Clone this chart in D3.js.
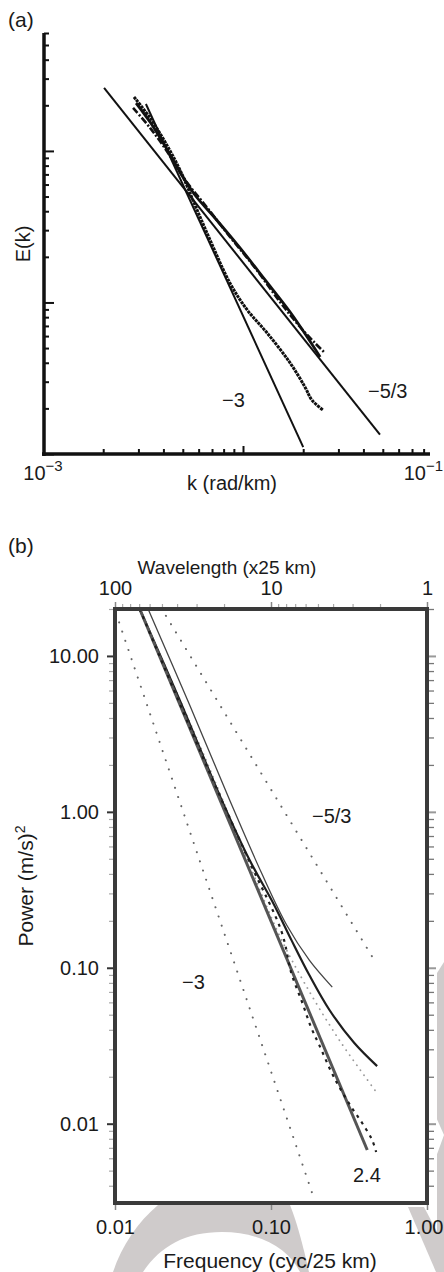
<!DOCTYPE html>
<html>
<head>
<meta charset="utf-8">
<script src="https://cdn.jsdelivr.net/npm/d3@7"></script>
<style>
  body { margin: 0; background: #fff; }
  text { font-family: "Liberation Sans", Arial, Helvetica, sans-serif; fill: #1a1a1a; }
</style>
</head>
<body>
<div class="chart"></div>
<script>
// ---------- panel (a): E(k) vs k (rad/km), log-log, E in arbitrary units
const kLabelsA = [{ k: 1e-3, exp: '−3', anchor: 'middle' }, { k: 1e-1, exp: '−1', anchor: 'end' }];
const majorEA = [1, 10, 100];
const slope53A = [[0.00202, 261], [0.0484, 1.34]];
const slope3A = [[0.00327, 204], [0.0200, 1.11]];
// upper branch, dash-dot
const dashDotA = [[0.00282, 192], [0.00343, 142], [0.00422, 97.0], [0.00513, 64.4], [0.00646, 44.0],
  [0.00861, 27.1], [0.0115, 16.9], [0.0153, 10.1], [0.0193, 6.89], [0.0229, 5.40], [0.0257, 4.64]];
// upper branch, solid
const solidA = [[0.00292, 207], [0.00343, 155], [0.00407, 108], [0.00484, 72.7], [0.00575, 51.2],
  [0.00724, 36.1], [0.00966, 22.9], [0.0129, 14.1], [0.0172, 8.65], [0.0211, 5.83], [0.0243, 4.37]];
// lower branch, dotted
const dottedA = [[0.00285, 227], [0.00343, 165], [0.00407, 115], [0.00484, 74.9], [0.00575, 44.0],
  [0.00684, 25.9], [0.00861, 13.4], [0.0105, 8.92], [0.0132, 6.29], [0.0172, 3.99], [0.0204, 2.77],
  [0.0221, 2.27], [0.0251, 1.95]];

// ---------- panel (b): power (m/s)^2 vs frequency (cyc/25 km)
const powTicks = [0.01, 0.1, 1, 10];
const freqTicks = [0.01, 0.1, 1];
const waveTicks = [100, 10, 1];
const slope3B = [[0.01015, 18.8], [0.190, 0.00324]];
const slope53B = [[0.0212, 18.1], [0.472, 0.107]];
const fit24B = [[0.0144, 20], [0.414, 0.00678]];
const thinB = [[0.0163, 20], [0.0301, 4.84], [0.0543, 1.19], [0.0870, 0.405], [0.126, 0.188],
  [0.176, 0.112], [0.247, 0.0752]];
const thickB = [[0.0144, 20], [0.0260, 5.21], [0.0483, 1.19], [0.0729, 0.491], [0.105, 0.252],
  [0.135, 0.151], [0.176, 0.0898], [0.237, 0.0536], [0.342, 0.0329], [0.479, 0.0234]];
const dashB = [[0.0144, 20], [0.0349, 2.49], [0.0729, 0.477], [0.117, 0.170], [0.135, 0.0925],
  [0.159, 0.0594], [0.181, 0.0413], [0.204, 0.0319], [0.244, 0.0214], [0.274, 0.0172],
  [0.327, 0.0128], [0.384, 0.0101], [0.445, 0.00785], [0.472, 0.00658]];
const dotB = [[0.0144, 20], [0.0349, 2.68], [0.0729, 0.456], [0.113, 0.162], [0.164, 0.0798],
  [0.274, 0.0344], [0.479, 0.0157]];

const svg = d3.select('.chart').append('svg')
  .attr('width', 444).attr('height', 1272)
  .style('display', 'block');

// watermark behind panel (b)
const wm = svg.append('g').attr('fill', '#cfcbcb');
wm.append('path').attr('d', 'M113,1272 C122,1245 138,1222 158,1205 L290,1205 C298,1225 304,1250 309,1272 Z');
wm.append('path').attr('fill', '#fff').attr('d', 'M143,1272 C160,1246 186,1232 222,1232 C260,1232 288,1248 300,1272 Z');
wm.append('path').attr('d', 'M437,973 L444,962 L444,1272 L437,1272 Z');
wm.append('path').attr('fill', '#fff').attr('d', 'M436,1117 L444,1135 L436,1157 Z');
wm.append('path').attr('d', 'M408,1207 L424,1207 L444,1245 L444,1272 L436,1272 Z');

// ================= panel (a)
const xA = d3.scaleLog().domain([1e-3, 0.0861]).range([43, 430]);
const yA = d3.scaleLog().domain([1, 600]).range([454, 33]);
const lineA = d3.line().x(d => xA(d[0])).y(d => yA(d[1]));
const curveA = d3.line().x(d => xA(d[0])).y(d => yA(d[1])).curve(d3.curveCatmullRom);

const gA = svg.append('g');
const styleTicks = (g, color, w) => {
  g.select('.domain').remove();
  g.selectAll('.tick line').attr('stroke', color).attr('stroke-width', w);
};
const minorEA = yA.ticks().filter(v => !majorEA.includes(v));
gA.append('g').attr('transform', 'translate(44,0)')
  .call(d3.axisRight(yA).tickValues(minorEA).tickSize(5).tickFormat(''))
  .call(g => styleTicks(g, '#111', 2));
gA.append('g').attr('transform', 'translate(44,0)')
  .call(d3.axisRight(yA).tickValues(majorEA).tickSize(10).tickFormat(''))
  .call(g => styleTicks(g, '#111', 2));
const minorKA = xA.ticks().filter(v => Math.abs(Math.log10(v) - Math.round(Math.log10(v))) > 1e-6);
gA.append('g').attr('transform', 'translate(0,454)')
  .call(d3.axisTop(xA).tickValues(minorKA).tickSize(5).tickFormat(''))
  .call(g => styleTicks(g, '#111', 2));
gA.append('g').attr('transform', 'translate(0,454)')
  .call(d3.axisTop(xA).tickValues([1e-2]).tickSize(8).tickFormat(''))
  .call(g => styleTicks(g, '#111', 2));
gA.append('path').attr('d', 'M44,33 V456 M42,454 H430')
  .attr('fill', 'none').attr('stroke', '#111').attr('stroke-width', 3.5);

gA.append('path').attr('d', lineA(slope53A)).attr('fill', 'none').attr('stroke', '#111').attr('stroke-width', 2);
gA.append('path').attr('d', lineA(slope3A)).attr('fill', 'none').attr('stroke', '#111').attr('stroke-width', 2);
gA.append('path').attr('d', curveA(solidA)).attr('fill', 'none').attr('stroke', '#111').attr('stroke-width', 2.8);
gA.append('path').attr('d', curveA(dashDotA)).attr('fill', 'none').attr('stroke', '#111')
  .attr('stroke-width', 2.6).attr('stroke-dasharray', '7,2,2,2');
gA.append('path').attr('d', curveA(dottedA)).attr('fill', 'none').attr('stroke', '#111')
  .attr('stroke-width', 3).attr('stroke-dasharray', '3,0.8');

gA.selectAll('.klab').data(kLabelsA).join('text')
  .attr('class', 'klab')
  .attr('x', d => xA(d.k)).attr('y', 480)
  .attr('text-anchor', d => d.anchor)
  .attr('font-size', 20)
  .call(t => {
    t.append('tspan').text('10');
    t.append('tspan').attr('dy', -9).attr('font-size', 15).text(d => d.exp);
  });
gA.append('text').attr('x', 232).attr('y', 490).attr('text-anchor', 'middle')
  .attr('font-size', 20).text('k (rad/km)');
gA.append('text').attr('transform', 'translate(30,244) rotate(-90)').attr('text-anchor', 'middle')
  .attr('font-size', 20).text('E(k)');
gA.append('text').attr('x', 222).attr('y', 407).attr('font-size', 20).text('−3');
gA.append('text').attr('x', 368).attr('y', 398).attr('font-size', 20).text('−5/3');
svg.append('text').attr('x', 8).attr('y', 27).attr('font-size', 21).text('(a)');

// ================= panel (b)
const xB = d3.scaleLog().domain([0.01, 1]).range([115, 427]);
const yB = d3.scaleLog().domain([0.0031, 20]).range([1203, 609]);
const xW = d3.scaleLog().domain([100, 1]).range([115, 427]);
const lineB = d3.line().x(d => xB(d[0])).y(d => yB(d[1]));
const curveB = d3.line().x(d => xB(d[0])).y(d => yB(d[1])).curve(d3.curveCatmullRom);
const fmt2 = d3.format('.2f');

const gB = svg.append('g');
gB.append('rect').attr('x', 115).attr('y', 609).attr('width', 312).attr('height', 594).attr('fill', '#fff');

const minorP = yB.ticks().filter(v => !powTicks.some(p => Math.abs(p - v) / p < 1e-6));
const minorW = xW.ticks().filter(v => !waveTicks.some(p => Math.abs(p - v) / p < 1e-6));

const labelStyle = g => g.selectAll('text').attr('font-size', 20).attr('fill', '#1a1a1a')
  .attr('font-family', '"Liberation Sans", Arial, sans-serif');

gB.append('g').attr('transform', 'translate(113,0)')
  .call(d3.axisLeft(yB).tickValues(minorP).tickSize(4).tickFormat(''))
  .call(g => styleTicks(g, '#aaa', 1.2));
gB.append('g').attr('transform', 'translate(113,0)')
  .call(d3.axisLeft(yB).tickValues(powTicks).tickSize(6).tickPadding(8).tickFormat(fmt2))
  .call(g => styleTicks(g, '#333', 2)).call(labelStyle);
gB.append('g').attr('transform', 'translate(429,0)')
  .call(d3.axisRight(yB).tickValues(minorP).tickSize(5).tickFormat(''))
  .call(g => styleTicks(g, '#777', 1.3));
gB.append('g').attr('transform', 'translate(429,0)')
  .call(d3.axisRight(yB).tickValues(powTicks).tickSize(7).tickFormat(''))
  .call(g => styleTicks(g, '#999', 2));
gB.append('g').attr('transform', 'translate(0,1205)')
  .call(d3.axisBottom(xB).tickValues(freqTicks).tickSize(5).tickPadding(10).tickFormat(fmt2))
  .call(g => styleTicks(g, '#888', 1.5)).call(labelStyle)
  .call(g => g.selectAll('.tick text').filter(d => d === 1).attr('text-anchor', 'end').attr('x', 16));
gB.append('g').attr('transform', 'translate(0,607)')
  .call(d3.axisTop(xW).tickValues(minorW).tickSize(3).tickFormat(''))
  .call(g => styleTicks(g, '#aaa', 1.2));
gB.append('g').attr('transform', 'translate(0,607)')
  .call(d3.axisTop(xW).tickValues(waveTicks).tickSize(5).tickPadding(7).tickFormat(d3.format('d')))
  .call(g => styleTicks(g, '#888', 1.5)).call(labelStyle)
  .call(g => g.selectAll('.tick text').attr('y', -12));

svg.append('clipPath').attr('id', 'clipB')
  .append('rect').attr('x', 115).attr('y', 609).attr('width', 312).attr('height', 594);
const plotB = gB.append('g').attr('clip-path', 'url(#clipB)');

plotB.append('path').attr('d', lineB(slope3B)).attr('fill', 'none').attr('stroke', '#666')
  .attr('stroke-width', 2).attr('stroke-linecap', 'round').attr('stroke-dasharray', '0.1,9.6');
plotB.append('path').attr('d', lineB(slope53B)).attr('fill', 'none').attr('stroke', '#666')
  .attr('stroke-width', 2).attr('stroke-linecap', 'round').attr('stroke-dasharray', '0.1,9.6');
plotB.append('path').attr('d', curveB(dotB)).attr('fill', 'none').attr('stroke', '#999')
  .attr('stroke-width', 1.8).attr('stroke-linecap', 'round').attr('stroke-dasharray', '0.1,6');
plotB.append('path').attr('d', curveB(thinB)).attr('fill', 'none').attr('stroke', '#444').attr('stroke-width', 1.3);
plotB.append('path').attr('d', curveB(thickB)).attr('fill', 'none').attr('stroke', '#1e1e1e').attr('stroke-width', 2.2);
plotB.append('path').attr('d', lineB(fit24B)).attr('fill', 'none').attr('stroke', '#555').attr('stroke-width', 3);
plotB.append('path').attr('d', curveB(dashB)).attr('fill', 'none').attr('stroke', '#1e1e1e')
  .attr('stroke-width', 2.2).attr('stroke-dasharray', '3,5');

gB.append('rect').attr('x', 115).attr('y', 609).attr('width', 312).attr('height', 594)
  .attr('fill', 'none').attr('stroke', '#3a3a3a').attr('stroke-width', 4);

gB.append('text').attr('x', 312).attr('y', 823).attr('font-size', 20).text('−5/3');
gB.append('text').attr('x', 182).attr('y', 989).attr('font-size', 20).text('−3');
gB.append('text').attr('x', 353).attr('y', 1182).attr('font-size', 20).text('2.4');
gB.append('text').attr('x', 227).attr('y', 574).attr('text-anchor', 'middle')
  .attr('font-size', 19).text('Wavelength (x25 km)');
gB.append('text').attr('x', 270).attr('y', 1268).attr('text-anchor', 'middle')
  .attr('font-size', 21).text('Frequency (cyc/25 km)');
gB.append('text').attr('transform', 'translate(33,886) rotate(-90)').attr('text-anchor', 'middle')
  .attr('font-size', 21)
  .call(t => {
    t.append('tspan').text('Power (m/s)');
    t.append('tspan').attr('dy', -8).attr('font-size', 14).text('2');
  });
svg.append('text').attr('x', 8).attr('y', 553).attr('font-size', 21).text('(b)');
</script>
</body>
</html>
